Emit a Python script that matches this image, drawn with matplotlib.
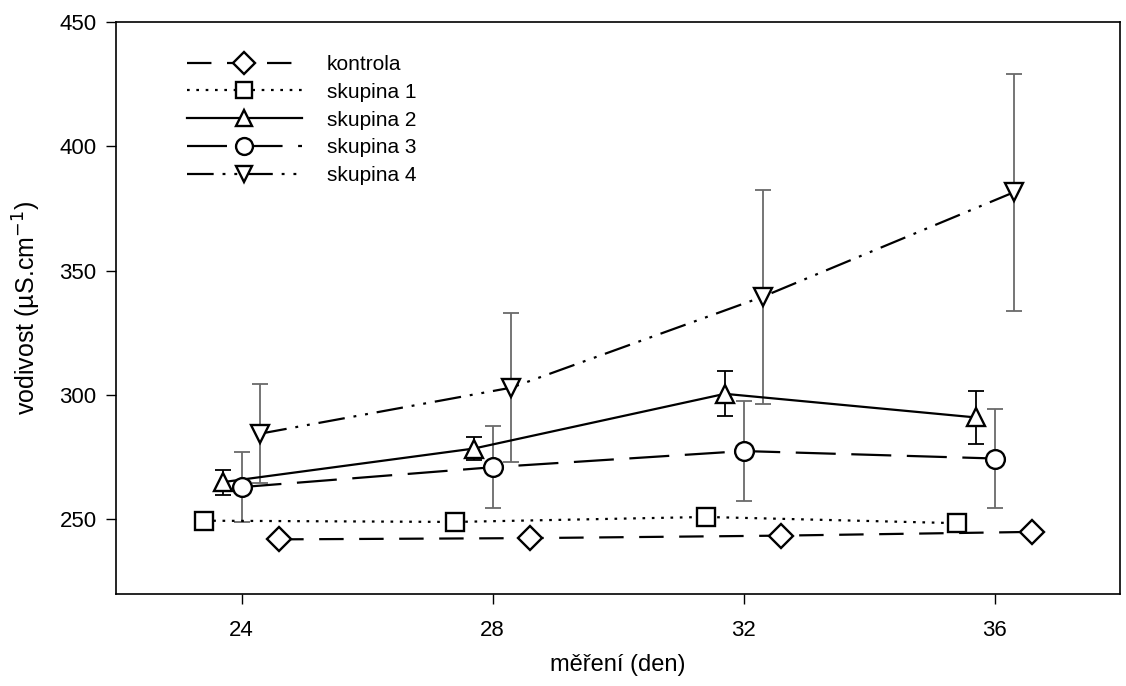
import matplotlib.pyplot as plt

plt.rcParams.update({
    "font.family": ["Liberation Sans", "DejaVu Sans"],
    "font.size": 14,
    "axes.linewidth": 1.2,
})

# data
kontrola_x = [24.6, 28.6, 32.6, 36.6]
kontrola_y = [242.0, 242.5, 243.5, 245.0]

sk1_x = [23.4, 27.4, 31.4, 35.4]
sk1_y = [249.5, 249.0, 251.0, 248.5]

sk2_x = [23.7, 27.7, 31.7, 35.7]
sk2_y = [265.0, 278.5, 300.5, 291.0]
sk2_err = [5.0, 4.8, 9.0, 10.5]

sk3_x = [24.0, 28.0, 32.0, 36.0]
sk3_y = [263.0, 271.0, 277.5, 274.5]
sk3_err = [14.0, 16.5, 20.0, 20.0]

sk4_x = [24.3, 28.3, 32.3, 36.3]
sk4_y = [284.5, 303.0, 339.5, 381.5]
sk4_err = [20.0, 30.0, 43.0, 47.5]

labels = ["kontrola", "skupina 1", "skupina 2", "skupina 3", "skupina 4"]
x_ticks = [24, 28, 32, 36]
y_ticks = [250, 300, 350, 400, 450]

fig = plt.figure(figsize=(11.26, 6.86), dpi=100)
ax = fig.add_axes([0.103, 0.134, 0.892, 0.834])

mk = dict(markersize=13.5, markerfacecolor="white", markeredgecolor="black",
          markeredgewidth=1.7, color="black", linewidth=1.6)
eb = dict(capsize=6, elinewidth=1.3, capthick=1.3)

# error bars first so markers sit on top
ax.errorbar(sk2_x, sk2_y, yerr=sk2_err, fmt="none", ecolor="black", zorder=2, **eb)
ax.errorbar(sk3_x, sk3_y, yerr=sk3_err, fmt="none", ecolor="#6a6a6a", zorder=2, **eb)
ax.errorbar(sk4_x, sk4_y, yerr=sk4_err, fmt="none", ecolor="#6a6a6a", zorder=2, **eb)

l0, = ax.plot(kontrola_x, kontrola_y, marker="D", dashes=(11, 7), zorder=3,
              **{**mk, "markersize": 12})
l1, = ax.plot(sk1_x, sk1_y, marker="s", dashes=(1.2, 3), zorder=3, **mk)
l2, = ax.plot(sk2_x, sk2_y, marker="^", linestyle="-", zorder=3, **mk)
l3, = ax.plot(sk3_x, sk3_y, marker="o", dashes=(18, 7), zorder=3, **mk)
l4, = ax.plot(sk4_x, sk4_y, marker="v", dashes=(12, 4, 1.3, 4, 1.3, 4), zorder=3, **mk)

ax.set_xlim(22, 38)
ax.set_ylim(220, 450)
ax.set_xticks(x_ticks)
ax.set_yticks(y_ticks)
ax.tick_params(direction="out", length=7, width=1.0, labelsize=16,
               top=False, right=False)
ax.tick_params(axis="x", pad=12)
ax.tick_params(axis="y", pad=7)

ax.set_xlabel("měření (den)", fontsize=17, labelpad=9)
ax.set_ylabel("vodivost (µS.cm$^{-1}$)", fontsize=18, labelpad=12)

ax.legend([l0, l1, l2, l3, l4], labels, loc="upper left",
          bbox_to_anchor=(0.052, 0.975), frameon=False, fontsize=15,
          handlelength=5.5, handletextpad=1.2, labelspacing=0.42,
          markerscale=0.9)

plt.savefig("out.png", dpi=100, facecolor="white")
plt.close()
